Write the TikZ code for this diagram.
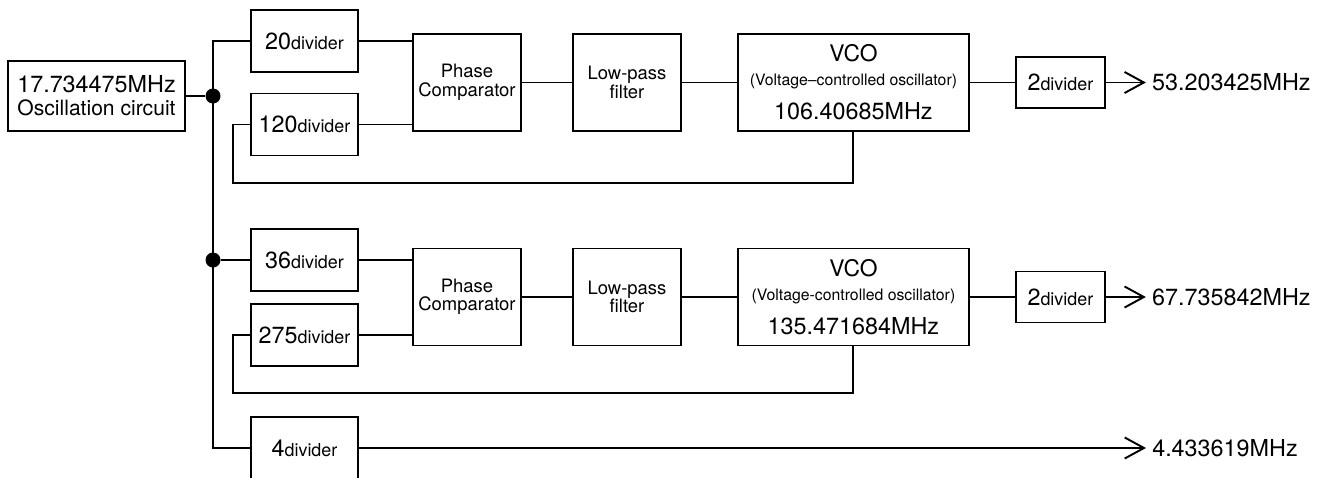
\documentclass[tikz,border=0pt]{standalone}
\usepackage{fontspec}
\setmainfont{TeX Gyre Heros}
\usetikzlibrary{positioning, arrows.meta}
\newcommand{\dvd}[1]{{\fontsize{13.3}{15}\selectfont #1}{\fontsize{10.2}{12}\selectfont divider}}
\newcommand{\vsub}{\fontsize{9}{11}\selectfont}

\begin{document}
\begin{tikzpicture}[x=0.02cm, y=-0.02cm, >={Straight Barb[length=11pt, width=12pt]},
    line width=1.1pt, font=\fontsize{13.3}{16}\selectfont,
    blk/.style ={draw, inner sep=0pt, outer sep=0pt, align=center},
    dvb/.style ={blk, minimum width=2.14cm, minimum height=1.24cm},
    pcb/.style ={blk, minimum width=2.16cm, minimum height=1.94cm, font=\fontsize{10.5}{10.5}\selectfont},
    vcob/.style={blk, minimum width=4.62cm, minimum height=1.94cm, font=\fontsize{13.3}{17}\selectfont},
    hfb/.style ={blk, minimum width=1.78cm, minimum height=1.02cm},
    jdot/.style={circle, fill, inner sep=0pt, minimum size=0.3cm},
    outl/.style={anchor=west, inner sep=3pt},
    arr/.style ={->}]
    \useasboundingbox (0,0) rectangle (1317,477);
    % source
    \node[blk, minimum width=3.54cm, minimum height=1.4cm, font=\fontsize{13.3}{13}\selectfont] (osc) at (96.5,96)
      {17.734475MHz\\{\fontsize{12}{13}\selectfont Oscillation circuit}};
    \node[jdot] (j1) at (213,96) {};
    % upper loop
    \node[dvb] (d20)  at (304.5,41)    {\dvd{20}};
    \node[dvb] (d120) at (304.5,124.5) {\dvd{120}};
    \node[pcb] (pc1) at (467,82.5) {Phase\\Comparator};
    \node[pcb, right=1.04cm of pc1] (lpf1) {Low-pass\\filter};
    \node[vcob, right=1.14cm of lpf1] (vco1)
      {{\fontsize{13}{13}\selectfont VCO}\\[-3.4pt]{\vsub (Voltage--controlled oscillator)}\\[2.3pt]106.40685MHz};
    \node[hfb, right=0.94cm of vco1] (half1) {\dvd{2}};
    \node[outl, right=0.82cm of half1] (out1) {53.203425MHz};
    % lower loop
    \node[jdot] (j2) at (213,260) {};
    \node[dvb] (d36)  at (304.5,260) {\dvd{36}};
    \node[dvb] (d275) at (304.5,335) {\dvd{275}};
    \node[pcb] (pc2) at (467,297) {Phase\\Comparator};
    \node[pcb, right=1.04cm of pc2] (lpf2) {Low-pass\\filter};
    \node[vcob, right=1.14cm of lpf2] (vco2)
      {{\fontsize{13}{13}\selectfont VCO}\\[-3.4pt]{\vsub (Voltage-controlled oscillator)}\\[2.3pt]135.471684MHz};
    \node[hfb, right=0.94cm of vco2] (half2) {\dvd{2}};
    \node[outl, right=0.82cm of half2] (out2) {67.735842MHz};
    % direct branch
    \node[dvb] (d4) at (304.5,448) {\dvd{4}};
    \node[outl] (out3) at (1146,448) {4.433619MHz};
    \coordinate (fb1) at (233,183);
    \coordinate (fb2) at (233,393);
    % wires
    \draw (osc.east) -- (j1);
    \draw (d20.west) -| (j1 |- d4.west) -- (d4.west);
    \draw (j2) -- (d36);
    \draw (d20.east)  -- (d20.east -| pc1.west);
    \draw (d120.east) -- (d120.east -| pc1.west);
    \draw (d36.east)  -- (d36.east -| pc2.west);
    \draw (d275.east) -- (d275.east -| pc2.west);
    \draw (pc1) -- (lpf1);
    \draw (lpf1) -- (vco1);
    \draw (vco1) -- (half1);
    \draw (pc2) -- (lpf2);
    \draw (lpf2) -- (vco2);
    \draw (vco2) -- (half2);
    \draw[arr] (half1) -- (out1);
    \draw[arr] (half2) -- (out2);
    \draw[arr] (d4) -- (out3);
    % feedback
    \draw (d120.west) -| (fb1) -| (vco1.south);
    \draw (d275.west) -| (fb2) -| (vco2.south);
\end{tikzpicture}
\end{document}
